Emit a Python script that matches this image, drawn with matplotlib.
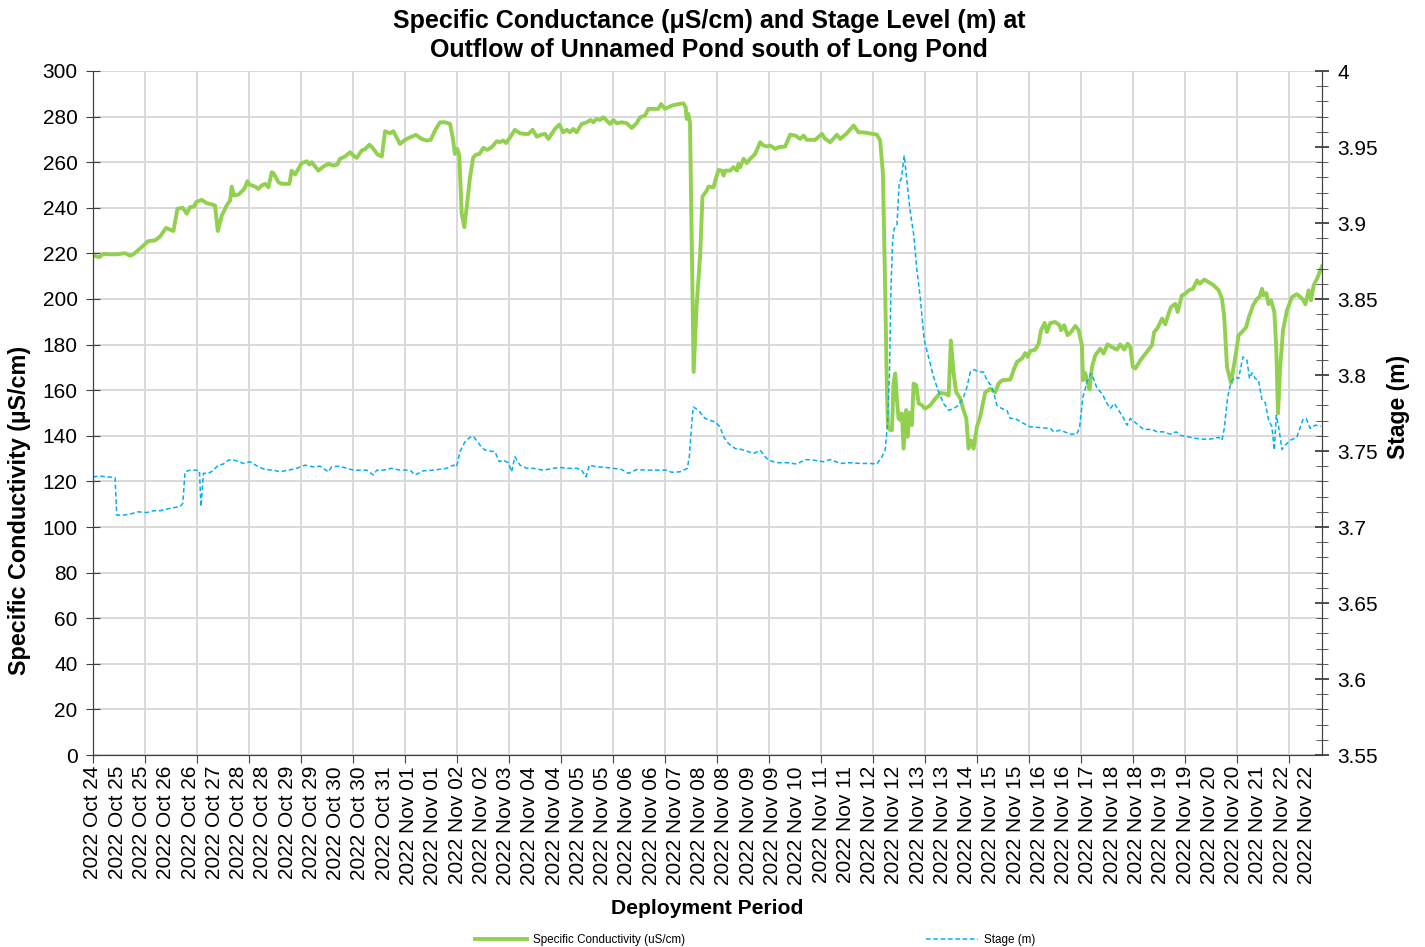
import matplotlib.pyplot as plt
from matplotlib.lines import Line2D

plt.rcParams['font.family'] = ['Liberation Sans', 'DejaVu Sans']

# hours since the first label (2022 Oct 24, ~12:00)
cond_hours = [
    0, 3.7, 6.0, 9.8, 13.7, 18.5, 21.4, 23.3, 28.1, 31.9, 35.8, 38.7, 42.1, 44.5, 46.4,
    48.7, 51.8, 54.1, 56.0, 58.3, 59.5, 62.7, 65.6, 68.5, 70.4, 72.0, 74.3, 77.1, 79.1,
    80.0, 81.4, 83.9, 86.8, 87.7, 89.1, 90.2, 93.5, 95.4, 97.3, 99.3, 101.2, 103.1,
    104.1, 107.0, 108.9, 113.3, 114.6, 116.6, 118.5, 120.4, 123.3, 124.8, 126.2, 130.0,
    132.9, 135.8, 138.7, 141.0, 142.5, 145.4, 148.3, 150.2, 152.1, 155.0, 157.0, 159.5,
    161.8, 164.1, 166.6, 168.5, 171.4, 173.3, 177.1, 180.0, 182.9, 186.3, 189.6, 192.5,
    194.8, 197.3, 200.2, 203.1, 206.0, 207.5, 208.8, 210.2, 211.3, 212.7, 214.2, 215.6,
    217.5, 219.4, 221.0, 222.9, 225.2, 227.5, 230.0, 232.9, 234.8, 236.7, 238.3, 240.6,
    243.4, 246.3, 249.2, 251.1, 253.6, 256.0, 258.8, 260.8, 262.7, 264.6, 266.5, 269.0,
    271.3, 273.3, 275.2, 277.1, 279.0, 281.9, 284.8, 287.1, 288.6, 290.6, 292.5, 294.4,
    296.4, 298.3, 300.2, 302.1, 305.0, 307.9, 310.8, 313.6, 315.6, 318.4, 320.4, 323.3,
    326.1, 327.7, 330.0, 333.8, 337.7, 340.6, 341.9, 342.5, 343.4, 344.4, 345.4, 346.5,
    348.2, 350.3, 351.6, 354.1, 355.1, 358.0, 359.0, 360.9, 362.8, 363.8, 364.7, 367.6,
    369.5, 371.5, 372.4, 373.4, 375.3, 377.2, 379.1, 382.0, 384.9, 386.8, 388.8, 390.7,
    393.6, 395.5, 399.3, 402.2, 405.1, 408.0, 409.9, 411.8, 416.6, 420.5, 422.4, 425.3,
    429.1, 431.1, 434.9, 438.8, 441.6, 444.5, 447.4, 452.2, 454.1, 455.7, 457.0, 458.0,
    458.6, 459.9, 460.9, 461.8, 462.8, 463.8, 464.7, 465.7, 466.6, 467.6, 469.1, 469.9,
    471.1, 472.4, 473.4, 474.9, 476.3, 478.2, 480.1, 483.0, 485.9, 488.8, 491.6, 493.6,
    494.9, 496.5, 498.0, 500.3, 502.2, 503.8, 505.1, 506.5, 508.0, 509.9, 511.8, 514.7,
    517.6, 520.5, 522.4, 524.3, 525.3, 529.2, 531.1, 533.0, 535.9, 537.8, 539.2, 540.7,
    543.6, 545.5, 546.9, 549.0, 550.3, 552.3, 555.1, 557.6, 558.4, 560.3, 562.2, 564.2,
    566.7, 568.6, 570.5, 571.1, 572.4, 573.4, 574.9, 576.3, 578.2, 581.1, 583.0, 585.3,
    587.8, 590.7, 592.6, 594.9, 596.9, 598.4, 599.9, 601.3, 604.2, 608.0, 610.9, 612.2,
    614.2, 616.7, 618.6, 620.5, 621.9, 624.4, 625.7, 628.2, 630.1, 632.1, 634.6, 636.9,
    638.4, 641.1, 643.6, 646.5, 649.4, 651.3, 652.6, 654.2, 656.5, 659.0, 660.9, 662.8,
    665.3, 666.7, 669.2, 671.5, 673.0, 674.4, 675.3, 676.9, 678.2, 679.6, 681.5, 682.6,
    683.6, 684.9, 686.5, 688.8, 691.7, 694.5, 696.5, 698.0, 699.4, 701.3, 702.6, 704.2,
    706.1, 709.0,
]
cond_values = [
    219.1, 218.4, 219.8, 219.6, 219.6, 220.1, 219.0, 219.6, 222.8, 225.4, 225.7, 227.4, 231.2, 230.4, 229.8,
    239.6, 240.0, 237.4, 240.3, 240.6, 242.5, 243.5, 242.0, 241.5, 241.0, 229.8, 236.6, 241.0, 243.2,
    249.3, 245.4, 245.8, 247.9, 249.0, 251.7, 250.2, 249.3, 248.3, 249.8, 250.5, 249.0, 255.6,
    255.2, 251.2, 250.5, 250.5, 256.3, 254.6, 257.1, 259.6, 260.4, 259.0, 260.0, 256.3,
    258.1, 259.3, 258.5, 259.0, 261.5, 262.5, 264.4, 262.9, 261.9, 265.1, 265.8, 267.7,
    265.8, 263.4, 262.5, 273.6, 272.7, 273.6, 268.0, 269.8, 270.9, 272.0, 270.2, 269.5,
    269.8, 273.9, 277.5, 277.5, 276.8, 270.9, 263.6, 265.8, 262.9, 237.4, 231.5, 240.3,
    253.4, 262.2, 263.3, 263.6, 266.3, 265.4, 266.6, 269.2, 268.8, 269.5, 268.4, 270.9,
    274.2, 272.7, 272.4, 272.4, 274.2, 271.2, 272.1, 272.4, 270.2, 272.4, 274.6, 276.5,
    273.1, 274.2, 273.1, 274.6, 273.1, 276.8, 277.5, 278.5, 277.5, 279.0, 278.5, 279.7,
    278.2, 276.8, 278.5, 277.1, 277.5, 277.1, 275.0, 277.1, 279.7, 280.4, 283.4, 283.4,
    283.4, 285.5, 283.4, 284.8, 285.5, 285.8, 284.1, 279.0, 281.2, 277.5, 225.7, 168.0,
    196.5, 220.0, 245.0, 247.6, 249.3, 249.0, 252.0, 256.6, 256.3, 254.1, 256.3, 256.3,
    257.8, 256.3, 259.3, 257.8, 261.5, 259.6, 261.5, 263.6, 268.8, 267.3, 266.9, 267.3,
    265.8, 266.6, 266.9, 272.1, 271.7, 270.2, 271.7, 269.8, 269.8, 272.4, 270.2, 268.8,
    272.0, 270.2, 272.7, 276.1, 273.1, 273.1, 272.7, 272.1, 269.5, 254.9, 203.8, 160.0,
    143.9, 142.5, 142.5, 162.9, 167.3, 155.6, 147.6, 146.9, 149.8, 134.4, 151.3, 139.6,
    150.1, 144.7, 162.9, 162.2, 154.2, 153.4, 151.9, 153.4, 156.3, 158.8, 158.5, 157.7,
    181.8, 167.3, 159.1, 156.3, 151.2, 147.6, 134.4, 138.0, 134.4, 143.9, 148.3, 159.1,
    160.6, 159.1, 162.9, 164.3, 164.4, 164.7, 168.8, 172.4, 173.9, 176.3, 174.6, 177.2,
    177.8, 180.4, 186.3, 189.5, 185.5, 189.5, 189.9, 188.5, 186.3, 188.5, 184.1, 185.5,
    188.2, 186.3, 179.7, 164.4, 167.6, 164.4, 160.3, 170.2, 175.3, 178.2, 176.1, 180.1,
    178.9, 177.8, 180.1, 177.8, 180.4, 178.9, 170.2, 169.5, 173.1, 176.8, 179.7, 185.5,
    187.4, 191.4, 188.9, 193.6, 196.5, 197.9, 194.3, 201.6, 202.3, 203.8, 204.5, 208.2,
    206.7, 208.5, 207.4, 206.0, 203.8, 200.1, 192.1, 170.2, 163.2, 174.6, 184.1, 185.5,
    187.7, 191.8, 197.2, 200.1, 200.9, 204.5, 201.6, 202.6, 197.7, 199.4, 194.3, 178.9,
    149.8, 170.2, 186.3, 195.0, 200.9, 202.1, 200.9, 199.7, 197.7, 203.8, 199.4, 206.0,
    208.9, 214.3,
]

stage_hours = [
    0, 4.1, 7.9, 12.7, 13.7, 17.5, 21.4, 26.2, 31.0, 34.8, 38.7, 44.5, 50.2, 51.8, 53.1,
    56.0, 58.9, 61.4, 62.3, 63.7, 66.6, 69.1, 72.3, 75.2, 78.1, 80.0, 82.9, 86.8, 90.6,
    95.4, 99.3, 104.1, 107.9, 112.7, 117.5, 122.3, 126.8, 131.0, 135.8, 137.7, 142.1,
    146.4, 150.2, 154.1, 157.9, 161.8, 163.7, 167.5, 172.3, 177.1, 182.9, 185.8, 190.6,
    196.3, 204.0, 207.9, 209.8, 211.7, 214.6, 217.5, 219.4, 223.3, 226.1, 231.9, 234.4,
    236.7, 239.6, 241.5, 243.4, 246.3, 250.2, 254.0, 259.8, 265.6, 269.4, 273.3, 279.0,
    281.9, 284.4, 286.3, 290.6, 295.4, 300.2, 305.0, 308.8, 313.6, 319.4, 325.2, 330.9,
    333.8, 338.6, 342.9, 344.0, 345.4, 346.3, 349.2, 353.1, 355.9, 358.8, 361.7, 363.8,
    366.6, 370.5, 374.3, 378.2, 381.1, 384.9, 387.8, 389.7, 394.5, 400.3, 406.1, 410.9,
    415.7, 421.5, 425.3, 431.1, 436.8, 442.6, 448.4, 452.2, 455.1, 457.0, 458.4, 459.5,
    460.3, 461.3, 462.2, 463.8, 465.1, 466.3, 468.0, 469.5, 471.4, 473.4, 475.3, 477.2,
    479.5, 482.0, 484.9, 487.8, 490.7, 493.6, 496.5, 499.3, 502.2, 504.2, 506.1, 508.4,
    510.9, 513.8, 515.7, 518.0, 519.5, 521.4, 524.3, 527.2, 529.1, 532.0, 536.9, 540.7,
    546.5, 552.3, 554.2, 558.0, 563.8, 567.6, 569.2, 571.1, 573.8, 575.7, 577.2, 579.2,
    582.1, 585.0, 586.9, 589.2, 591.7, 594.6, 596.5, 598.4, 601.9, 606.1, 610.9, 613.8,
    617.6, 621.5, 624.9, 627.2, 631.1, 636.9, 642.6, 646.5, 649.4, 651.3, 652.6, 654.6,
    656.5, 659.0, 660.9, 662.2, 663.4, 665.7, 667.2, 668.6, 670.5, 672.4, 674.4, 676.3,
    678.2, 680.1, 681.5, 682.6, 684.0, 685.9, 687.8, 690.7, 694.5, 696.5, 698.0, 699.9,
    702.2, 705.1, 708.4,
]
stage_values = [
    3.7330, 3.7335, 3.7330, 3.7326, 3.7078, 3.7078, 3.7085, 3.7100, 3.7095, 3.7107, 3.7107, 3.7123, 3.7134, 3.7156, 3.7363,
    3.7374, 3.7374, 3.7370, 3.7134, 3.7353, 3.7353, 3.7370, 3.7407, 3.7414, 3.7440, 3.7444, 3.7435, 3.7418, 3.7429,
    3.7396, 3.7378, 3.7374, 3.7363, 3.7374, 3.7386, 3.7407, 3.7396, 3.7400, 3.7363, 3.7396, 3.7400,
    3.7386, 3.7374, 3.7374, 3.7374, 3.7342, 3.7374, 3.7374, 3.7386, 3.7374, 3.7374, 3.7342, 3.7370,
    3.7374, 3.7386, 3.7407, 3.7396, 3.7495, 3.7561, 3.7590, 3.7597, 3.7538, 3.7506, 3.7495, 3.7429,
    3.7440, 3.7423, 3.7363, 3.7462, 3.7407, 3.7386, 3.7386, 3.7374, 3.7386, 3.7392, 3.7386, 3.7386,
    3.7374, 3.7330, 3.7407, 3.7396, 3.7392, 3.7386, 3.7378, 3.7353, 3.7378, 3.7374, 3.7374, 3.7374,
    3.7360, 3.7363, 3.7386, 3.7462, 3.7681, 3.7790, 3.7768, 3.7714, 3.7702, 3.7692, 3.7659, 3.7594,
    3.7549, 3.7516, 3.7510, 3.7495, 3.7484, 3.7505, 3.7462, 3.7440, 3.7423, 3.7423, 3.7414, 3.7444,
    3.7440, 3.7429, 3.7444, 3.7418, 3.7423, 3.7418, 3.7418, 3.7414, 3.7462, 3.7506, 3.7681, 3.8010,
    3.8557, 3.8886, 3.8963, 3.8985, 3.9268, 3.9290, 3.9444, 3.9280, 3.9080, 3.8929, 3.8689, 3.8514,
    3.8229, 3.8119, 3.7987, 3.7890, 3.7812, 3.7768, 3.7779, 3.7801, 3.7855, 3.7921, 3.8020, 3.8035,
    3.8020, 3.8020, 3.7965, 3.7933, 3.7890, 3.7801, 3.7779, 3.7768, 3.7714, 3.7714, 3.7681, 3.7659,
    3.7654, 3.7648, 3.7626, 3.7637, 3.7611, 3.7611, 3.7659, 3.7857, 3.7966, 3.8010, 3.7977, 3.7911,
    3.7878, 3.7813, 3.7780, 3.7813, 3.7768, 3.7714, 3.7670, 3.7714, 3.7681, 3.7642, 3.7642, 3.7626,
    3.7626, 3.7611, 3.7626, 3.7604, 3.7594, 3.7582, 3.7576, 3.7582, 3.7590, 3.7571, 3.7648, 3.7857,
    3.7954, 3.7987, 3.7977, 3.8053, 3.8119, 3.8097, 3.7977, 3.8014, 3.7977, 3.7966, 3.7834, 3.7816,
    3.7704, 3.7659, 3.7506, 3.7735, 3.7659, 3.7510, 3.7539, 3.7571, 3.7590, 3.7659, 3.7707, 3.7714,
    3.7648, 3.7670, 3.7663,
]

tick_labels = [
    '2022 Oct 24', '2022 Oct 25', '2022 Oct 25', '2022 Oct 26', '2022 Oct 26', '2022 Oct 27',
    '2022 Oct 28', '2022 Oct 28', '2022 Oct 29', '2022 Oct 29', '2022 Oct 30', '2022 Oct 30',
    '2022 Oct 31', '2022 Nov 01', '2022 Nov 01', '2022 Nov 02', '2022 Nov 02', '2022 Nov 03',
    '2022 Nov 04', '2022 Nov 04', '2022 Nov 05', '2022 Nov 05', '2022 Nov 06', '2022 Nov 06',
    '2022 Nov 07', '2022 Nov 08', '2022 Nov 08', '2022 Nov 09', '2022 Nov 09', '2022 Nov 10',
    '2022 Nov 11', '2022 Nov 11', '2022 Nov 12', '2022 Nov 12', '2022 Nov 13', '2022 Nov 13',
    '2022 Nov 14', '2022 Nov 15', '2022 Nov 15', '2022 Nov 16', '2022 Nov 16', '2022 Nov 17',
    '2022 Nov 18', '2022 Nov 18', '2022 Nov 19', '2022 Nov 19', '2022 Nov 20', '2022 Nov 20',
    '2022 Nov 21', '2022 Nov 22', '2022 Nov 22',
]
label_step = 14   # hours between labels
grid_step = 30    # hours between vertical gridlines
x_end = 709

green = '#92D050'
blue = '#00B0F0'

fig = plt.figure(figsize=(14.25, 9.47), dpi=100)
ax = fig.add_axes([93 / 1425, 1 - 755 / 947, (1322 - 93) / 1425, (755 - 71) / 947])
ax2 = ax.twinx()

ax.plot(cond_hours, cond_values, color=green, lw=2.8, solid_joinstyle='round')
ax2.plot(stage_hours, stage_values, color=blue, lw=1.1, linestyle=(0, (3, 1.8)))

ax.set_xlim(0, x_end)
ax.set_ylim(0, 300)
ax.set_yticks(range(0, 301, 20))
ax2.set_ylim(3.55, 4.0)
ax2.set_yticks([3.55 + 0.05 * i for i in range(10)])
ax2.set_yticklabels(['3.55', '3.6', '3.65', '3.7', '3.75', '3.8', '3.85', '3.9', '3.95', '4'])
ax2.set_yticks([3.55 + 0.01 * i for i in range(46)], minor=True)

ax.set_xticks(range(0, x_end, grid_step))
ax.set_xticklabels([])
ax.xaxis.remove_overlapping_locs = False
ax.set_xticks([label_step * i for i in range(len(tick_labels))], tick_labels, minor=True)
ax.tick_params(axis='x', which='minor', length=0, rotation=90, labelsize=15, pad=8)
ax.tick_params(axis='x', which='major', length=6, direction='out', color='#404040')
ax.tick_params(axis='y', direction='inout', length=10, labelsize=15, pad=6, color='#404040')
ax2.tick_params(axis='y', which='major', direction='inout', length=10, labelsize=15, pad=6,
                width=1.3, color='#404040')
ax2.tick_params(axis='y', which='minor', direction='inout', length=8, color='#404040')

ax.grid(True, which='major', color='#D9D9D9', lw=1.4)
ax.set_axisbelow(True)
for a in (ax, ax2):
    a.spines['top'].set_visible(False)
    for s in ('left', 'right', 'bottom'):
        a.spines[s].set_color('#404040')

fig.text(709 / 1425, 1 - 35.5 / 947,
         'Specific Conductance (\u03bcS/cm) and Stage Level (m) at\nOutflow of Unnamed Pond south of Long Pond',
         ha='center', va='center', fontsize=18, fontweight='bold', linespacing=1.28)
fig.text(20 / 1425, 1 - 510 / 947, 'Specific Conductivity (\u00b5S/cm)', rotation=90,
         ha='center', va='center', fontsize=16.8, fontweight='bold')
fig.text(1398 / 1425, 1 - 407 / 947, 'Stage (m)', rotation=90,
         ha='center', va='center', fontsize=16.5, fontweight='bold')
fig.text(707 / 1425, 1 - 908 / 947, 'Deployment Period',
         ha='center', va='center', fontsize=15.2, fontweight='bold')

handles = [Line2D([], [], color=green, lw=2.8),
           Line2D([], [], color=blue, lw=1.1, linestyle=(0, (3, 1.8)))]
fig.legend(handles, ['Specific Conductivity (uS/cm)', 'Stage (m)'],
           loc='center', bbox_to_anchor=(755 / 1425, 1 - 940 / 947), ncol=2,
           frameon=False, fontsize=8.4, handlelength=4.5, columnspacing=20.6, handletextpad=0.5)

fig.savefig('out.png', dpi=100)
